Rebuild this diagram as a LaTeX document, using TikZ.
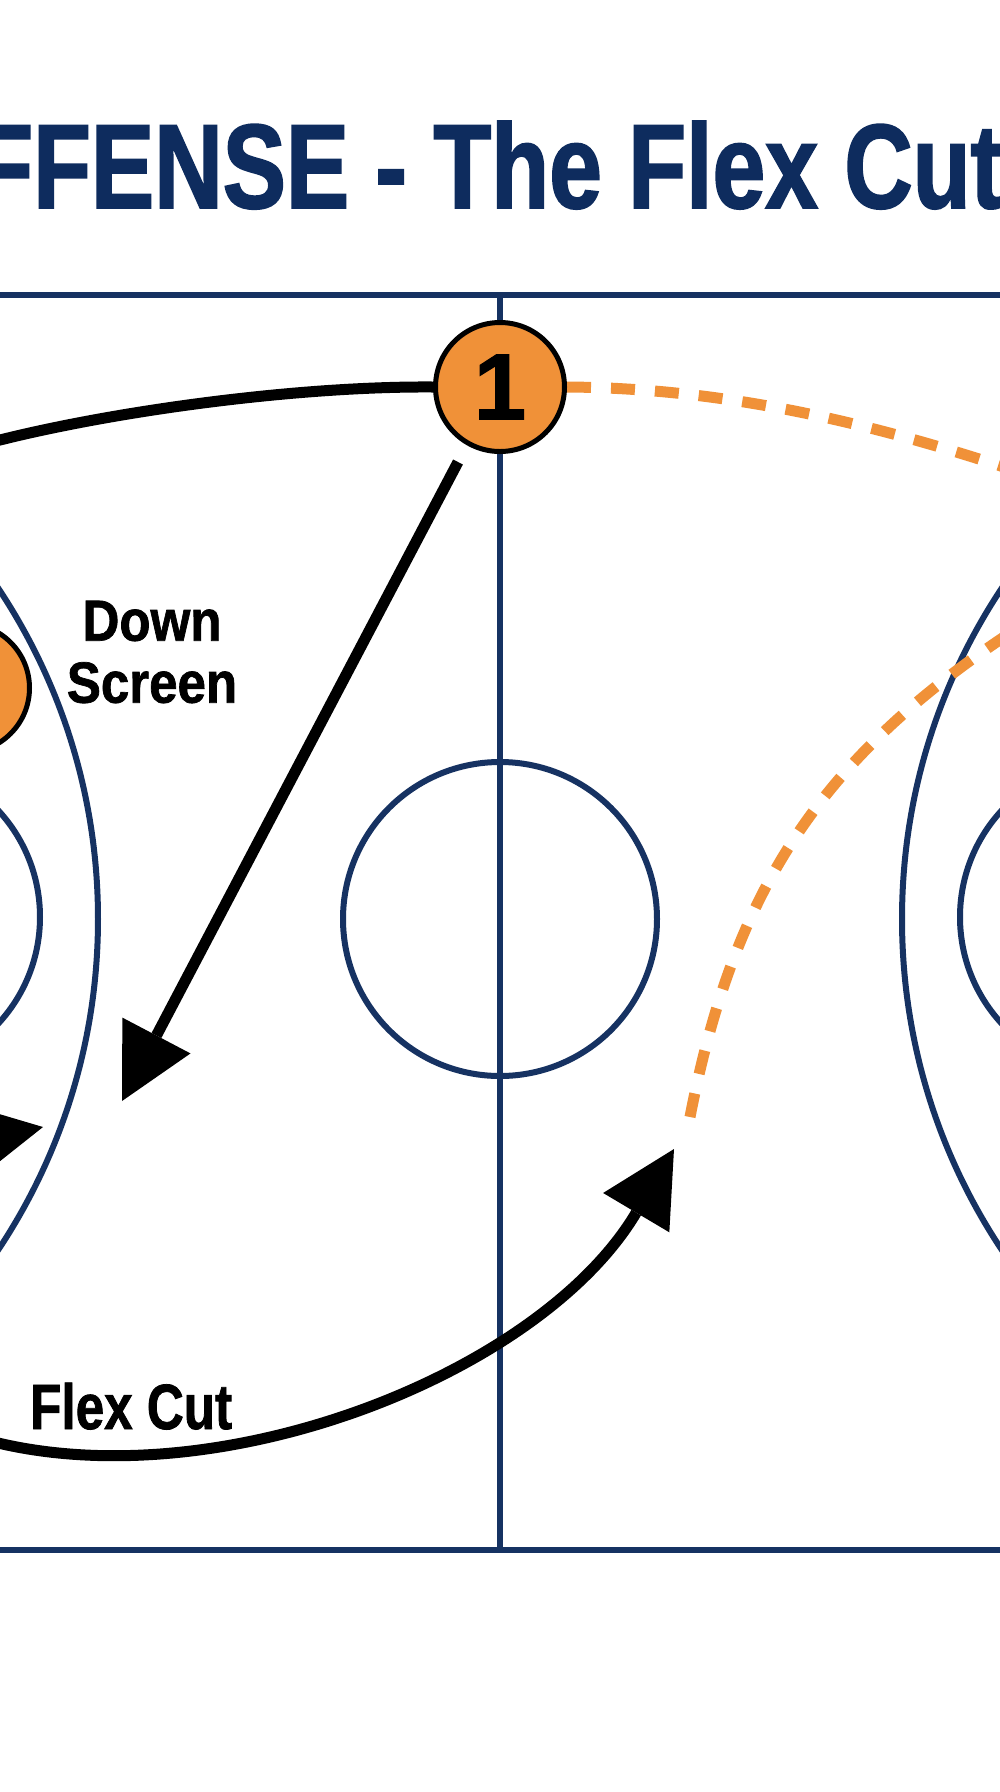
\documentclass[tikz,border=0pt]{standalone}
\usepackage{fontspec}
\setmainfont{Liberation Sans}
\newfontfamily\numfont{Liberation Sans}[FakeBold=1.2]
\newfontfamily\titlefont{Liberation Sans}[FakeStretch=0.79,FakeBold=1.5]
\newfontfamily\labfontA{Liberation Sans}[FakeStretch=0.88,FakeBold=1.2]
\newfontfamily\labfontB{Liberation Sans}[FakeStretch=0.80,FakeBold=1.2]
\usetikzlibrary{arrows.meta}
\definecolor{courtnavy}{RGB}{22,50,98}
\definecolor{titlenavy}{RGB}{14,44,94}
\definecolor{playorange}{RGB}{240,145,56}
\pgfdeclarelayer{back}
\pgfsetlayers{back,main}
\begin{document}
\begin{tikzpicture}[x=1pt,y=-1pt,
  courtline/.style={draw=courtnavy,line width=6pt},
  boundline/.style={draw=courtnavy,line width=6pt},
  player/.style={circle,draw=black,line width=5pt,fill=playorange,minimum size=129pt,inner sep=0pt},
  movearrow/.style={draw=black,line width=11pt,-{Triangle[length=74pt,width=77pt,line width=0pt]}},
  moveline/.style={draw=black,line width=11pt},
  passline/.style={draw=playorange,line width=11pt,dash pattern=on 24pt off 20pt},
  lbl/.style={inner sep=0pt,text=black}]
\useasboundingbox (0,0) rectangle (1000,1792);
\clip (0,0) rectangle (1000,1792);

% players and labels
\node[player,font=\numfont\bfseries\fontsize{94pt}{94pt}\selectfont] (p1) at (500,387) {1};
\node[player] (p2) at (-35,688) {};
\node[lbl,align=center,font=\labfontA\bfseries\fontsize{58pt}{62pt}\selectfont] (dslabel) at (152,652) {Down\\Screen};
\node[lbl,anchor=base west,font=\labfontB\bfseries\fontsize{64pt}{70pt}\selectfont] (fclabel) at (30,1429) {Flex Cut};
\node[anchor=base west,inner sep=0pt,text=titlenavy,font=\titlefont\bfseries\fontsize{120pt}{130pt}\selectfont] (title) at (-25,208) {FFENSE - The Flex Cut};

% free ends of connectors
\coordinate (dsstart) at (458,462);
\coordinate (dstip) at (122,1101);
\coordinate (fcstart) at (-10,1441);
\coordinate (fctip) at (674,1149);
\coordinate (lstart) at (-55,1146);
\coordinate (ltip) at (43,1127);
\coordinate (o1end) at (1010,469);
\coordinate (o2end) at (690,1117);
\coordinate (o2start) at (1010,633);
\coordinate (b1end) at (-40,450);

\begin{pgfonlayer}{back}
\clip (0,0) rectangle (1000,1792);
\fill[white] (0,0) rectangle (1000,1792);
% court
\draw[boundline] (-10,295) -- (1010,295);
\draw[boundline] (-10,1550) -- (1010,1550);
\draw[courtline] (500,295) -- (500,1550);
\draw[courtline] (500,919) circle[radius=157];
\draw[courtline] (-117,917) circle[radius=157];
\draw[courtline] (1117,917) circle[radius=157];
\draw[courtline] (-500,919) circle[radius=598];
\draw[courtline] (1500,919) circle[radius=598];
% movements
\draw[moveline] (p1.west) .. controls (300,386) and (120,410) .. (0,440) -- (b1end);
\draw[movearrow] (dsstart) -- (dstip);
\draw[movearrow] (fcstart) .. controls (220,1500) and (541,1373) .. (fctip);
\draw[movearrow] (lstart) -- (ltip);
% passes
\draw[passline] (p1.east) .. controls (717,388) and (860,419.5) .. (o1end);
\draw[passline] (o2end) .. controls (733.7,891.6) and (819,759.5) .. (o2start);
\end{pgfonlayer}
\end{tikzpicture}
\end{document}
